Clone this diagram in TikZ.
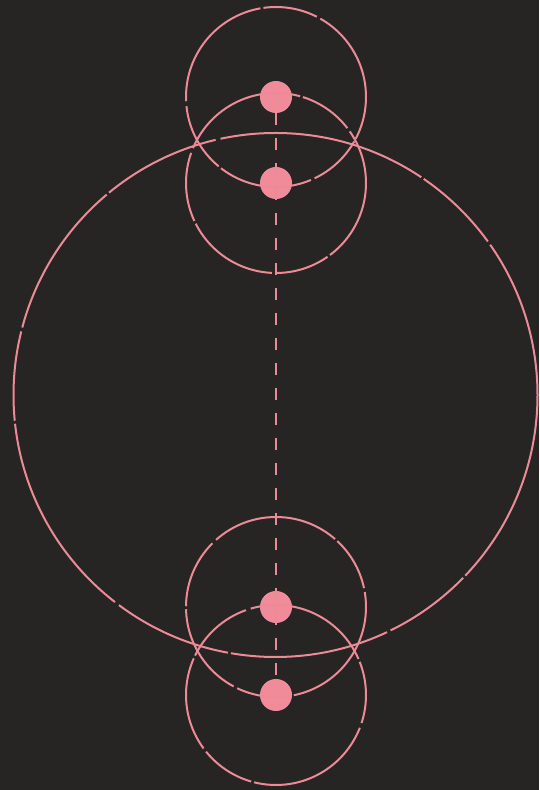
\documentclass[tikz,border=0pt]{standalone}
\begin{document}
\begin{tikzpicture}[x=1pt,y=1pt,
  ring/.style={draw=pk, line width=2pt, dash pattern=on 95pt off 4pt on 55pt off 3pt on 130pt off 5pt on 70pt off 3pt},
  bigring/.style={draw=pk, line width=2pt, dash pattern=on 160pt off 4pt on 90pt off 3pt on 210pt off 5pt on 120pt off 3pt},
  dot/.style={circle, fill=dotc, inner sep=0pt, minimum size=32pt},
  axis/.style={draw=pk, line width=2pt, dash pattern=on 12pt off 13pt}]
\definecolor{bg}{HTML}{272523}
\definecolor{pk}{HTML}{EC8A98}
\definecolor{dotc}{HTML}{F08C99}
\fill[bg] (0,0) rectangle (539,790);
\useasboundingbox (0,0) rectangle (539,790);
\coordinate (cc) at (275.5,395);
\node[dot] (d1) at (276,693) {};
\node[dot] (d2) at (276,607) {};
\node[dot] (d3) at (276,183) {};
\node[dot] (d4) at (276,95) {};
\draw[axis] (d1.south) -- (d4.north);
\draw[bigring] (cc) circle (262);
\draw[ring] (d1.center) circle (90);
\draw[ring, dash phase=40pt] (d2.center) circle (90);
\draw[ring, dash phase=80pt] (d3.center) circle (90);
\draw[ring, dash phase=120pt] (d4.center) circle (90);
\end{tikzpicture}
\end{document}
